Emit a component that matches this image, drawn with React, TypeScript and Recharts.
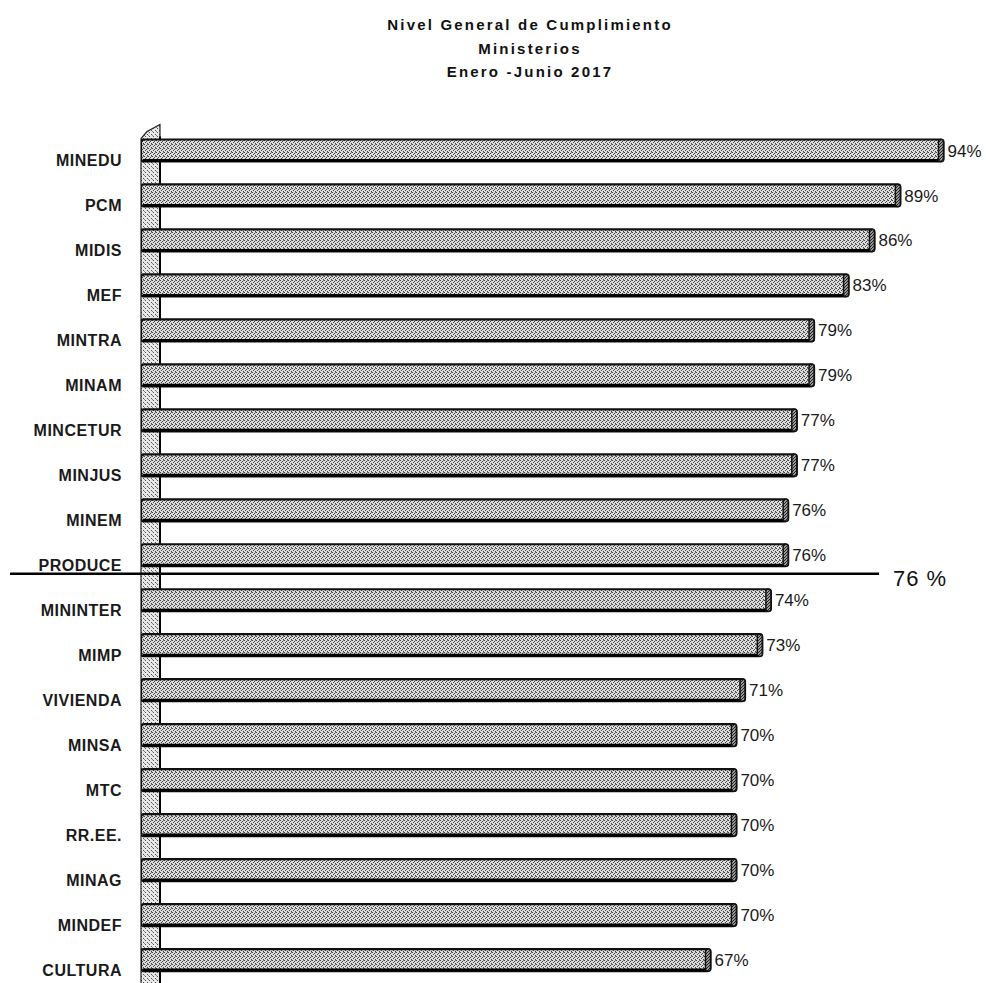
import { BarChart, Bar, XAxis, YAxis, LabelList, ReferenceLine, ReferenceArea } from "recharts";

/* ================= DATA ================= */

const ministries = [
  "MINEDU",
  "PCM",
  "MIDIS",
  "MEF",
  "MINTRA",
  "MINAM",
  "MINCETUR",
  "MINJUS",
  "MINEM",
  "PRODUCE",
  "MININTER",
  "MIMP",
  "VIVIENDA",
  "MINSA",
  "MTC",
  "RR.EE.",
  "MINAG",
  "MINDEF",
  "CULTURA",
];

const compliance = [94, 89, 86, 83, 79, 79, 77, 77, 76, 76, 74, 73, 71, 70, 70, 70, 70, 70, 67];

const titleLines = ["Nivel General de Cumplimiento", "Ministerios", "Enero -Junio 2017"];

const averageLabel = "76 %";
const averageAfter = "PRODUCE";

const data = ministries.map((name, i) => ({ name, value: compliance[i] }));

const FONT = "'Liberation Sans', Arial, sans-serif";

/* ================= SHAPES ================= */

const StippleBar = (props: any) => {
  const { x, y, width, height } = props;
  return (
    <g>
      <rect x={x} y={y} width={width} height={height} rx={3} fill="url(#stipple)" stroke="#111" strokeWidth={2.2} />
      <line x1={x + 2} y1={y + height - 1} x2={x + width - 2} y2={y + height - 1} stroke="#000" strokeWidth={3} />
      <rect x={x + width - 5} y={y} width={5} height={height} rx={2} fill="url(#stippleDark)" stroke="#111" strokeWidth={1.5} />
    </g>
  );
};

const Wall = (props: any) => {
  const { x, y, width, height } = props;
  const right = x + width;
  const bottom = y + height + 10;
  return (
    <g>
      <polygon
        points={`${x},${bottom} ${x},${y + 10} ${x + 6},${y + 3} ${right},${y - 4} ${right},${bottom}`}
        fill="url(#stippleLight)"
        stroke="#222"
        strokeWidth={1.2}
      />
      <line x1={right} y1={y + 8} x2={right} y2={bottom} stroke="#000" strokeWidth={2} />
    </g>
  );
};

const AverageLine = (props: any) => {
  const { y1 } = props;
  const yy = y1 + 18;
  return (
    <g>
      <line x1={10} y1={yy} x2={879} y2={yy} stroke="#000" strokeWidth={2.5} />
      <text x={893} y={yy + 12} fontSize={22} fontFamily={FONT} fill="#111" letterSpacing={1}>
        {averageLabel}
      </text>
    </g>
  );
};

const CategoryTick = (props: any) => {
  const { y, payload } = props;
  return (
    <text
      x={122}
      y={y + 15}
      textAnchor="end"
      fontSize={16}
      fontWeight="bold"
      fontFamily={FONT}
      fill="#1a1a1a"
      letterSpacing={0.5}
    >
      {payload.value}
    </text>
  );
};

/* ================= COMPONENT ================= */

export default function App() {
  return (
    <div style={styles.page}>
      <div style={styles.title}>
        {titleLines.map((t) => (
          <div key={t}>{t}</div>
        ))}
      </div>

      <BarChart
        layout="vertical"
        width={986}
        height={983}
        data={data}
        margin={{ top: 128.5, right: 8, bottom: 0, left: 0 }}
      >
        <defs>
          <pattern id="stipple" width={4} height={4} patternUnits="userSpaceOnUse">
            <rect width={4} height={4} fill="#dcdcdc" />
            <rect x={0} y={0} width={1} height={1} fill="#444" />
            <rect x={2} y={1} width={1} height={1} fill="#444" />
            <rect x={1} y={2} width={1} height={1} fill="#444" />
            <rect x={3} y={3} width={1} height={1} fill="#444" />
            <rect x={3} y={0} width={1} height={1} fill="#777" />
          </pattern>
          <pattern id="stippleLight" width={4} height={4} patternUnits="userSpaceOnUse">
            <rect width={4} height={4} fill="#e8e8e8" />
            <rect x={1} y={0} width={1} height={1} fill="#555" />
            <rect x={3} y={2} width={1} height={1} fill="#555" />
            <rect x={0} y={3} width={1} height={1} fill="#888" />
          </pattern>
          <pattern id="stippleDark" width={3} height={3} patternUnits="userSpaceOnUse">
            <rect width={3} height={3} fill="#999" />
            <rect x={0} y={0} width={1} height={1} fill="#222" />
            <rect x={2} y={1} width={1} height={1} fill="#222" />
            <rect x={1} y={2} width={1} height={1} fill="#222" />
          </pattern>
        </defs>

        <XAxis type="number" domain={[1, 98]} hide allowDataOverflow />
        <YAxis
          type="category"
          dataKey="name"
          width={141}
          axisLine={false}
          tickLine={false}
          interval={0}
          tick={CategoryTick}
        />

        <ReferenceArea x1={1} x2={3.2} ifOverflow="visible" shape={Wall} />

        <Bar dataKey="value" barSize={22} shape={StippleBar} isAnimationActive={false}>
          <LabelList
            dataKey="value"
            position="right"
            offset={4}
            formatter={(v: any) => `${v}%`}
            style={{ fontSize: 17, fontFamily: FONT, fill: "#1a1a1a" }}
          />
        </Bar>

        <ReferenceLine y={averageAfter} ifOverflow="visible" shape={AverageLine} />
      </BarChart>
    </div>
  );
}

/* ================= STYLES ================= */

const styles: Record<string, React.CSSProperties> = {
  page: {
    position: "absolute",
    left: 0,
    top: 0,
    width: 986,
    height: 983,
    overflow: "hidden",
    background: "#fff",
  },

  title: {
    position: "absolute",
    left: 330,
    top: 13,
    width: 400,
    textAlign: "center",
    fontFamily: FONT,
    fontWeight: "bold",
    fontSize: 15,
    lineHeight: "23.5px",
    letterSpacing: 2.2,
    color: "#111",
  },
};
